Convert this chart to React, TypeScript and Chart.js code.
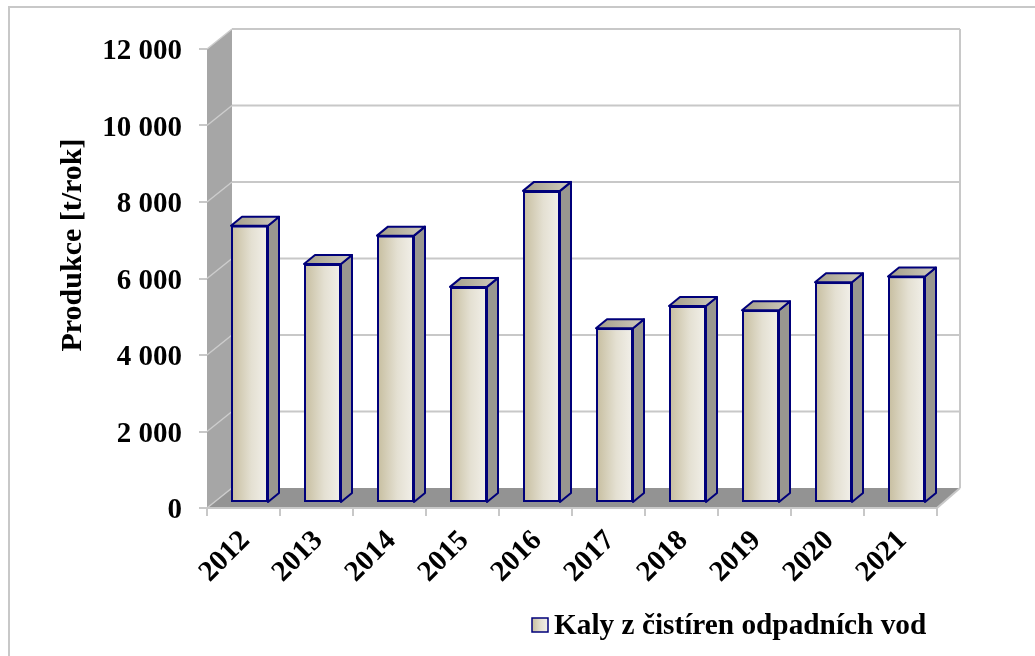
import { useEffect, useRef } from "react";
import { Chart, registerables } from "chart.js";

Chart.register(...registerables);

const categories = ["2012", "2013", "2014", "2015", "2016", "2017", "2018", "2019", "2020", "2021"];
const values = [7250, 6250, 6990, 5650, 8160, 4570, 5150, 5040, 5770, 5920];
const yTickValues = [0, 2000, 4000, 6000, 8000, 10000, 12000];
const seriesLabel = "Kaly z čistíren odpadních vod";
const axisTitle = "Produkce [t/rok]";

const FONT = '"Liberation Serif", "Times New Roman", serif';
const WALL = { dx: 25, dy: -20 };
const BAR_SHIFT = { dx: 6, dy: -5 };
const BAR_DEPTH = { dx: 11, dy: -9 };
const BAR_PCT = 37 / 73;
const NAVY = "#00007a";

const fmt = (v: number) => String(v).replace(/\B(?=(\d{3})+(?!\d))/g, " ");

function poly(ctx: CanvasRenderingContext2D, pts: number[][]) {
  ctx.beginPath();
  ctx.moveTo(pts[0][0], pts[0][1]);
  for (let i = 1; i < pts.length; i++) ctx.lineTo(pts[i][0], pts[i][1]);
  ctx.closePath();
}

function frontGradient(ctx: CanvasRenderingContext2D, x0: number, x1: number) {
  if (!Number.isFinite(x0) || !Number.isFinite(x1) || x1 <= x0) return "#e2ddcc";
  const g = ctx.createLinearGradient(x0, 0, x1, 0);
  g.addColorStop(0, "#c6bd9e");
  g.addColorStop(0.55, "#e4e0d2");
  g.addColorStop(1, "#f2f0ea");
  return g;
}

const scenePlugin = {
  id: "scene3d",
  beforeDraw(chart: any) {
    const { ctx, width, height, chartArea: a } = chart;
    const y = chart.scales.y;
    ctx.save();
    ctx.fillStyle = "#ffffff";
    ctx.fillRect(0, 0, width, height);
    ctx.strokeStyle = "#c8c8c8";
    ctx.lineWidth = 2;
    ctx.strokeRect(9, 7, width + 40, height + 40);

    const bx = (x: number) => x + WALL.dx - (2 * (x - a.left)) / (a.right - a.left);
    ctx.fillStyle = "#a6a6a6";
    poly(ctx, [
      [a.left, a.top],
      [bx(a.left), a.top + WALL.dy],
      [bx(a.left), a.bottom + WALL.dy],
      [a.left, a.bottom],
    ]);
    ctx.fill();
    ctx.fillStyle = "#939393";
    poly(ctx, [
      [a.left, a.bottom],
      [bx(a.left), a.bottom + WALL.dy],
      [bx(a.right), a.bottom + WALL.dy],
      [a.right, a.bottom],
    ]);
    ctx.fill();

    for (const v of yTickValues) {
      const py = y.getPixelForValue(v);
      if (v > 0) {
        ctx.strokeStyle = "#c8c8c8";
        ctx.lineWidth = 2;
        ctx.beginPath();
        ctx.moveTo(bx(a.left), py + WALL.dy);
        ctx.lineTo(bx(a.right), py + WALL.dy);
        ctx.stroke();
      }
      ctx.strokeStyle = "#cdcdcd";
      ctx.lineWidth = 1.5;
      ctx.beginPath();
      ctx.moveTo(a.left, py);
      ctx.lineTo(bx(a.left), py + WALL.dy);
      ctx.stroke();
    }
    ctx.strokeStyle = "#c8c8c8";
    ctx.lineWidth = 2;
    ctx.beginPath();
    ctx.moveTo(bx(a.right), a.top + WALL.dy);
    ctx.lineTo(bx(a.right), a.bottom + WALL.dy);
    ctx.stroke();
    ctx.beginPath();
    ctx.moveTo(a.right, a.bottom);
    ctx.lineTo(bx(a.right), a.bottom + WALL.dy);
    ctx.stroke();
    ctx.restore();
  },
  beforeDatasetsDraw(chart: any) {
    chart.ctx.save();
    chart.ctx.translate(BAR_SHIFT.dx, BAR_SHIFT.dy);
  },
  afterDatasetsDraw(chart: any) {
    const ctx = chart.ctx;
    const meta = chart.getDatasetMeta(0);
    ctx.lineJoin = "round";
    for (const el of meta.data as any[]) {
      const half = el.width / 2;
      const l = el.x - half;
      const r = el.x + half;
      const t = el.y;
      const b = el.base;
      if (![l, r, t, b].every(Number.isFinite)) continue;
      const { dx, dy } = BAR_DEPTH;
      ctx.fillStyle = "#999790";
      poly(ctx, [
        [r, t],
        [r + dx, t + dy],
        [r + dx, b + dy],
        [r, b],
      ]);
      ctx.fill();
      ctx.strokeStyle = NAVY;
      ctx.lineWidth = 2;
      ctx.stroke();
      const g = ctx.createLinearGradient(l, 0, r + dx, 0);
      g.addColorStop(0, "#a39d88");
      g.addColorStop(1, "#cfcbbe");
      ctx.fillStyle = g;
      poly(ctx, [
        [l, t],
        [l + dx, t + dy],
        [r + dx, t + dy],
        [r, t],
      ]);
      ctx.fill();
      ctx.stroke();
    }
    ctx.restore();
  },
  afterDraw(chart: any) {
    const ctx = chart.ctx;
    ctx.save();
    ctx.fillStyle = "#000";
    ctx.font = `bold 30px ${FONT}`;
    ctx.translate(73, 245);
    ctx.rotate(-Math.PI / 2);
    ctx.textAlign = "center";
    ctx.textBaseline = "middle";
    ctx.fillText(axisTitle, 0, 0);
    ctx.restore();

    ctx.save();
    const label = chart.data.datasets[0].label;
    const bxl = 532, byt = 618, bw = 16, bh = 14;
    ctx.fillStyle = frontGradient(ctx, bxl, bxl + bw);
    ctx.fillRect(bxl, byt, bw, bh);
    ctx.strokeStyle = NAVY;
    ctx.lineWidth = 1.5;
    ctx.strokeRect(bxl, byt, bw, bh);
    ctx.fillStyle = "#000";
    ctx.font = `bold 29.3px ${FONT}`;
    ctx.textAlign = "left";
    ctx.textBaseline = "alphabetic";
    ctx.fillText(label, 554, 634);
    ctx.restore();
  },
};

export default function App() {
  const ref = useRef<HTMLCanvasElement | null>(null);
  useEffect(() => {
    if (!ref.current) return;
    const chart = new Chart(ref.current, {
      type: "bar",
      data: {
        labels: categories,
        datasets: [
          {
            label: seriesLabel,
            data: values,
            clip: false as any,
            borderColor: NAVY,
            borderWidth: 2,
            borderSkipped: false,
            categoryPercentage: 1,
            barPercentage: BAR_PCT,
            backgroundColor: (c: any) => {
              const xs = c.chart.scales && c.chart.scales.x;
              if (!xs || c.type !== "data" || !Number.isFinite(xs.left) || !Number.isFinite(xs.right)) return "#e2ddcc";
              const cx = xs.getPixelForValue(c.dataIndex);
              const half = (((xs.right - xs.left) / categories.length) * BAR_PCT) / 2;
              return frontGradient(c.chart.ctx, cx - half, cx + half);
            },
          },
        ],
      },
      options: {
        responsive: false,
        animation: false,
        devicePixelRatio: 1,
        layout: { padding: { left: 0, top: 49, right: 98, bottom: 0 } },
        plugins: {
          legend: { display: false },
          tooltip: { enabled: false },
        },
        scales: {
          x: {
            afterFit: (s: any) => {
              s.height = 148;
            },
            grid: {
              offset: true,
              drawOnChartArea: false,
              drawTicks: true,
              tickLength: 8,
              color: "#c8c8c8",
              lineWidth: 2,
            },
            border: { display: true, color: "#c8c8c8", width: 2 },
            ticks: {
              autoSkip: false,
              maxRotation: 45,
              minRotation: 45,
              padding: 8,
              labelOffset: 2,
              color: "#000",
              font: { family: FONT, size: 29, weight: "bold" },
            },
          },
          y: {
            min: 0,
            max: 12000,
            afterFit: (s: any) => {
              s.width = 207;
            },
            afterBuildTicks: (s: any) => {
              s.ticks = yTickValues.map((v) => ({ value: v }));
            },
            grid: {
              drawOnChartArea: false,
              drawTicks: true,
              tickLength: 8,
              color: "#c8c8c8",
              lineWidth: 2,
            },
            border: { display: false },
            ticks: {
              padding: 17,
              labelOffset: 3,
              color: "#000",
              font: { family: FONT, size: 29, weight: "bold" },
              callback: (v: any) => fmt(Number(v)),
            },
          },
        },
      },
      plugins: [scenePlugin],
    });
    return () => chart.destroy();
  }, []);
  return (
    <div style={{ position: "absolute", left: 0, top: 0, width: 1035, height: 656 }}>
      <canvas ref={ref} width={1035} height={656} style={{ width: 1035, height: 656, display: "block" }} />
    </div>
  );
}
